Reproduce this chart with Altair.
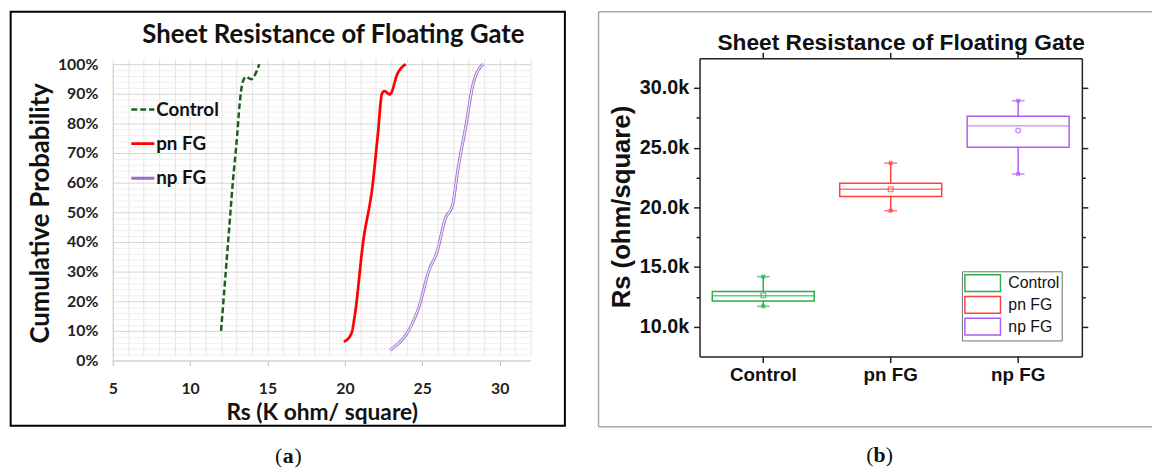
import altair as alt
import pandas as pd

# ---------------- Panel (a): cumulative probability ----------------
series_names = ["Control", "pn FG", "np FG"]
control_rs = [12.0, 12.45, 12.77, 13.04, 13.19, 13.4, 13.6, 13.94, 14.47]
control_cp = [10, 39.6, 60.7, 76, 86, 94, 95.7, 94.9, 100]
pn_rs = [19.93, 20.42, 20.64, 21.17, 21.8, 22.13, 22.4, 22.55, 22.91, 23.4, 23.93]
pn_cp = [6.3, 9.1, 15.2, 39.6, 59.6, 76.3, 90.1, 90.9, 89.8, 96.8, 100]
np_rs = [22.91, 24.36, 24.78, 25.42, 25.96, 26.49, 26.95, 27.34, 27.81, 28.29, 28.93]
np_cp = [3.5, 12.6, 18, 30.2, 36.8, 47.9, 52.4, 65.7, 79, 93.4, 100]
x_ticks_a = list(range(5, 33))
y_ticks_a = list(range(0, 101, 2))

# ---------------- Panel (b): box plot ----------------
groups = ["Control", "pn FG", "np FG"]
q1 = [12160, 20910, 25030]
median = [12600, 21520, 26830]
q3 = [12960, 22020, 27630]
whisker_lo = [11710, 19720, 22790]
whisker_hi = [14200, 23710, 28940]
mean = [12630, 21520, 26440]
y_ticks_b = list(range(10000, 30001, 2500))

title_text = "Sheet Resistance of Floating Gate"

rows = []
for name, xs, ys in [("Control", control_rs, control_cp), ("pn FG", pn_rs, pn_cp), ("np FG", np_rs, np_cp)]:
    for i, (xv, yv) in enumerate(zip(xs, ys)):
        rows.append({"series": name, "rs": xv, "cp": yv, "idx": i})
df_a = pd.DataFrame(rows)

df_b = pd.DataFrame({"group": groups, "q1": q1, "median": median, "q3": q3,
                     "whisker_lo": whisker_lo, "whisker_hi": whisker_hi, "mean": mean})


def text_mark(text, x, y, **kw):
    return alt.Chart(alt.Data(values=[{"t": text}])).mark_text(**kw).encode(
        x=alt.value(x), y=alt.value(y), text="t:N")


# ---- panel (a) ----  plot area top shared with panel (b); y range starts 6px lower
H_A = 306
xa = alt.X("rs:Q", title=None,
           scale=alt.Scale(domain=[5, 32], nice=False, zero=False),
           axis=alt.Axis(values=x_ticks_a,
                         labelExpr="datum.value % 5 === 0 ? datum.label : ''",
                         labelOverlap=False, labelFlush=False,
                         grid=True, gridColor="#e4e4e4", gridWidth=1,
                         domainColor="#d0d0d0", domainWidth=1,
                         tickColor="#bfbfbf", tickSize=5,
                         tickOpacity={"condition": {"test": "datum.value % 5 === 0", "value": 1}, "value": 0},
                         labelFont="Lato", labelFontWeight="bold", labelFontSize=16,
                         labelColor="#222222", labelPadding=15))
ya = alt.Y("cp:Q", title=None,
           scale=alt.Scale(domain=[0, 100], nice=False, zero=False, range=[H_A, 6]),
           axis=alt.Axis(values=y_ticks_a,
                         labelExpr="datum.value % 10 === 0 ? datum.value + '%' : ''",
                         labelOverlap=False,
                         grid=True,
                         gridColor={"condition": {"test": "datum.value % 10 === 0", "value": "#d4d4d4"}, "value": "#efefef"},
                         gridWidth=1, ticks=False,
                         domainColor="#d0d0d0", domainWidth=1,
                         labelFont="Lato", labelFontWeight="bold", labelFontSize=16,
                         labelColor="#222222", labelPadding=15))

leg_a = alt.Legend(title=None, orient="none", legendX=17, legendY=39, padding=0,
                   symbolType="stroke", symbolSize=543, symbolStrokeWidth=3,
                   labelFont="Lato", labelFontSize=19, labelFontWeight="bold",
                   labelColor="#111111", labelOffset=0, rowPadding=11)

lines = alt.Chart(df_a).mark_line(interpolate="monotone").encode(
    x=xa, y=ya,
    color=alt.Color("series:N", scale=alt.Scale(domain=series_names, range=["#1d5e20", "#ff0000", "#9a6ccc"]), legend=leg_a),
    strokeDash=alt.StrokeDash("series:N", scale=alt.Scale(domain=series_names, range=[[6, 3], [1, 0], [1, 0]]), legend=leg_a),
    strokeWidth=alt.StrokeWidth("series:N", scale=alt.Scale(domain=series_names, range=[2.5, 3, 4.5]), legend=None),
    order="idx:Q",
)
inner = alt.Chart(df_a).transform_filter(alt.datum.series == "np FG").mark_line(
    interpolate="monotone", color="#efe4fa", strokeWidth=1.3).encode(x=xa, y=ya, order="idx:Q")

frame_a = alt.Chart(alt.Data(values=[{}])).mark_rect(fillOpacity=0, stroke="#000000", strokeWidth=2).encode(
    x=alt.value(-103.3), x2=alt.value(457.7), y=alt.value(-47), y2=alt.value(372))

title_a = text_mark(title_text, 223.4, -23, font="Lato", fontSize=26, fontWeight="bold", color="#111111")
xtitle_a = text_mark("Rs (K ohm/ square)", 212, 359, font="Lato", fontSize=23, fontWeight="bold", color="#111111")
ytitle_a = text_mark("Cumulative Probability", -72.3, 157, font="Lato", fontSize=26, fontWeight="bold",
                     color="#111111", angle=270)
pa1 = text_mark("(", 171.5, 403, font="Liberation Serif", fontSize=22, align="right", color="#111111")
pa2 = text_mark("a", 177.7, 403, font="Liberation Serif", fontSize=22, fontWeight="bold", color="#111111")
pa3 = text_mark(")", 183.9, 403, font="Liberation Serif", fontSize=22, align="left", color="#111111")

chart_a = alt.layer(lines, inner, frame_a, title_a, xtitle_a, ytitle_a, pa1, pa2, pa3).properties(width=423, height=H_A)

# ---- panel (b) ----
box_colors = ["#2eae4a", "#ff4040", "#ad5cf5"]
xscale_b = alt.Scale(domain=groups, paddingInner=0.2, paddingOuter=0.1)
yscale_b = alt.Scale(domain=[7500, 32500], nice=False, zero=False)
tick_len = {"condition": {"test": "datum.value % 5000 === 0", "value": 6}, "value": 3.5}

leg_b = alt.Legend(title=None, orient="none", legendX=265.6, legendY=215.7, padding=2,
                   strokeColor="#707070", fillColor="#ffffff",
                   symbolType="M-2,-0.94H2V0.94H-2Z", symbolSize=324, symbolStrokeWidth=1.5,
                   symbolFillColor="transparent", symbolOffset=9,
                   labelFont="Liberation Sans", labelFontSize=16, labelColor="#111111",
                   labelOffset=16, rowPadding=-6)
color_scale_b = alt.Scale(domain=groups, range=box_colors)
color_b = alt.Color("group:N", scale=color_scale_b, legend=leg_b)
color_b_plain = alt.Color("group:N", scale=color_scale_b, legend=None)

x_bottom = alt.X("group:N", title=None, sort=groups, scale=xscale_b,
                 axis=alt.Axis(orient="bottom", labelAngle=0, domainColor="#222222", domainWidth=1.5,
                               tickColor="#222222", tickWidth=1.5, tickSize=6,
                               labelFont="Liberation Sans", labelFontWeight="bold", labelFontSize=19,
                               labelColor="#111111", labelPadding=3))
x_top = alt.X("group:N", title=None, sort=groups, scale=xscale_b,
              axis=alt.Axis(orient="top", labels=False, domainColor="#222222", domainWidth=1.5,
                            tickColor="#222222", tickWidth=1.5, tickSize=6))
x_none = alt.X("group:N", sort=groups, scale=xscale_b, axis=None)

y_left = alt.Y("q1:Q", title=None, scale=yscale_b,
               axis=alt.Axis(orient="left", values=y_ticks_b, grid=False,
                             labelExpr="datum.value % 5000 === 0 ? format(datum.value / 1000, '.1f') + 'k' : ''",
                             labelOverlap=False,
                             domainColor="#222222", domainWidth=1.5,
                             tickColor="#222222", tickWidth=1.5, tickSize=tick_len,
                             labelFont="Liberation Sans", labelFontWeight="bold", labelFontSize=20,
                             labelColor="#111111", labelPadding=5))

base_b = alt.Chart(df_b)

boxes = base_b.mark_bar(filled=False, strokeWidth=1.5).encode(
    x=x_bottom, y=y_left, y2="q3:Q", color=color_b)

medians = base_b.mark_tick(thickness=1.5, size=103).encode(
    x=x_top,
    y=alt.Y("median:Q", title=None, scale=yscale_b,
            axis=alt.Axis(orient="right", values=y_ticks_b, labels=False, grid=False,
                          domainColor="#222222", domainWidth=1.5,
                          tickColor="#222222", tickWidth=1.5, tickSize=tick_len)),
    color=color_b_plain)

wh_up = base_b.mark_rule(strokeWidth=1.5).encode(
    x=x_none, y=alt.Y("q3:Q", scale=yscale_b, axis=None), y2="whisker_hi:Q", color=color_b_plain)
wh_dn = base_b.mark_rule(strokeWidth=1.5).encode(
    x=x_none, y=alt.Y("whisker_lo:Q", scale=yscale_b, axis=None), y2="q1:Q", color=color_b_plain)

caps_base = base_b.transform_fold(["whisker_lo", "whisker_hi"], as_=["kind", "wval"])
caps = caps_base.mark_tick(thickness=1.5, size=13).encode(
    x=x_none, y=alt.Y("wval:Q", scale=yscale_b, axis=None), color=color_b_plain)
cap_marks = caps_base.mark_point(shape="cross", angle=45, size=26, filled=True).encode(
    x=x_none, y=alt.Y("wval:Q", scale=yscale_b, axis=None), color=color_b_plain)

means_sq = base_b.transform_filter(alt.datum.group != "np FG").mark_point(
    shape="square", filled=False, size=22, strokeWidth=1.3).encode(
    x=x_none, y=alt.Y("mean:Q", scale=yscale_b, axis=None), color=color_b_plain)
means_ci = base_b.transform_filter(alt.datum.group == "np FG").mark_point(
    shape="circle", filled=False, size=22, strokeWidth=1.3).encode(
    x=x_none, y=alt.Y("mean:Q", scale=yscale_b, axis=None), color=color_b_plain)

frame_b = alt.Chart(alt.Data(values=[{}])).mark_rule(color="#a6a6a6", strokeWidth=1.5)
fb_top = frame_b.encode(x=alt.value(-102.2), x2=alt.value(458), y=alt.value(-47), y2=alt.value(-47))
fb_left = frame_b.encode(x=alt.value(-102.2), x2=alt.value(-102.2), y=alt.value(-47), y2=alt.value(373))
fb_bottom = frame_b.encode(x=alt.value(-102.2), x2=alt.value(458), y=alt.value(373), y2=alt.value(373))

title_b = text_mark(title_text, 204, -15.5, font="Liberation Sans", fontSize=23, fontWeight="bold", color="#111111")
ytitle_b = text_mark("Rs (ohm/square)", -78.1, 150.7, font="Liberation Sans", fontSize=26, fontWeight="bold",
                     color="#111111", angle=270)
pb1 = text_mark("(", 176, 402, font="Liberation Serif", fontSize=22, align="right", color="#111111")
pb2 = text_mark("b", 182.3, 402, font="Liberation Serif", fontSize=22, fontWeight="bold", color="#111111")
pb3 = text_mark(")", 188.6, 402, font="Liberation Serif", fontSize=22, align="left", color="#111111")

chart_b = alt.layer(boxes, medians, wh_up, wh_dn, caps, cap_marks, means_sq, means_ci,
                    fb_top, fb_left, fb_bottom, title_b, ytitle_b, pb1, pb2, pb3).resolve_axis(
    x="independent", y="independent").resolve_scale(color="independent").properties(width=387, height=302)

chart = alt.hconcat(chart_a, chart_b, spacing=32).resolve_scale(
    color="independent", strokeDash="independent", strokeWidth="independent"
).resolve_legend(color="independent", strokeDash="independent", strokeWidth="independent").properties(
    padding={"left": 1, "top": 0, "right": 0, "bottom": 0}
).configure_view(strokeWidth=0)

chart.save("out.html", embed_options={"renderer": "svg", "actions": False})
